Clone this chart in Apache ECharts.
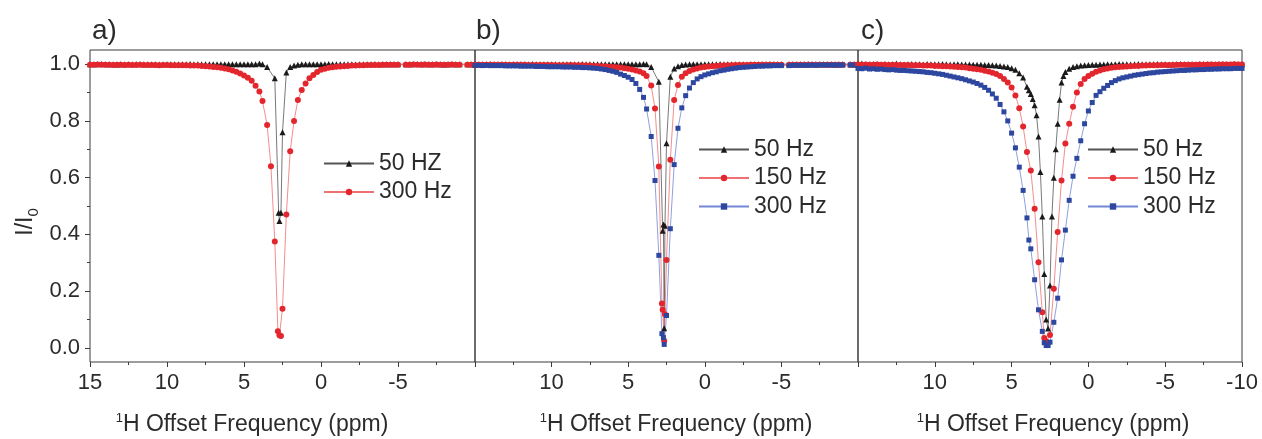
<!DOCTYPE html>
<html>
<head>
<meta charset="utf-8">
<script src="https://cdn.jsdelivr.net/npm/echarts@6/dist/echarts.min.js"></script>
<style>
html,body{margin:0;padding:0;background:#fff;}
#chart{width:1262px;height:439px;}
</style>
</head>
<body>
<div id="chart"></div>
<script>
// ---------- DATA ----------
// Panels a) and b): shared offset frequencies (ppm)
const X_AB = [15, 14.75, 14.5, 14.25, 14, 13.75, 13.5, 13.25, 13, 12.75, 12.5, 12.25, 12, 11.75, 11.5, 11.25, 11, 10.75, 10.5, 10.25, 10, 9.75, 9.5, 9.25, 9, 8.75, 8.5, 8.25, 8, 7.75, 7.5, 7.25, 7, 6.75, 6.5, 6.25, 6, 5.75, 5.5, 5.25, 5,
  4.75, 4.5, 4.25, 4, 3.8, 3.5, 3.25, 3, 2.8, 2.75, 2.7, 2.65, 2.6, 2.5, 2.4, 2.25, 2, 1.75, 1.5, 1.25, 1, 0.75, 0.5, 0.25,
  0, -0.25, -0.5, -0.75, -1, -1.25, -1.5, -1.75, -2, -2.25, -2.5, -2.75, -3, -3.25, -3.5, -3.75, -4, -4.25, -4.5, -4.75, -5,
  -5.5, -5.75, -6, -6.25, -6.5, -6.75, -7, -7.25, -7.5, -7.75, -8, -8.25, -8.5, -8.75, -9,
  -9.5, -9.75, -10];

const A_50 = [1, 1, 1, 1.001, 1, 1, 1, 0.999, 1, 1, 1, 1, 1.001, 1, 1, 1, 1, 1, 0.999, 1, 1, 1, 1, 1, 1, 1, 1.001, 1, 1, 1, 1, 1, 1, 1, 1, 1, 1, 1, 1, 1, 1,
  1, 1, 1, 1.002, 1, 0.99, null, 0.95, null, 0.476, 0.447, null, 0.476, 0.76, null, 0.971, 0.99, 0.995, 0.998, 1, 1, 1, 1, 1,
  1, 1, 1.001, 1, 1, 1, 1, 1, 1, 0.999, 1, 1, 1, 1, 1.001, 1, 1, 1, 1, 1, 1,
  1, 1, 1, 1.001, 1, 1, 1, 1, 1, 1, 0.999, 1, 1, 1, 1,
  1, 1, 1];
const A_300 = [0.998, 0.998, 0.999, 0.998, 0.998, 0.998, 0.997, 0.998, 0.998, 0.997, 0.998, 0.997, 0.997, 0.998, 0.997, 0.997, 0.997, 0.997, 0.996, 0.997, 0.997, 0.996, 0.996, 0.996, 0.996,
  0.996, 0.995, 0.995, 0.995, 0.994, 0.993, 0.992, 0.99, 0.989, 0.987, 0.985, 0.982, 0.978, 0.973, 0.967, 0.96,
  0.952, 0.942, 0.924, 0.904, 0.87, 0.786, 0.64, 0.375, 0.058, null, 0.044, null, 0.042, 0.138, null, 0.47, 0.693, 0.8, 0.874, 0.909, 0.932, 0.95, 0.962, 0.972,
  0.98, 0.984, 0.987, 0.989, 0.991, 0.992, 0.993, 0.994, 0.995, 0.995, 0.996, 0.996, 0.997, 0.997, 0.997, 0.997, 0.998, 0.998, 0.998, 0.998, 0.998,
  0.998, 0.998, 0.999, 0.998, 0.998, 0.999, 0.998, 0.998, 0.999, 0.998, 0.998, 0.998, 0.999, 0.998, 0.998,
  0.998, 0.998, 0.998];

const B_50 = [1, 1, 1, 1, 1.001, 1, 1, 1, 1, 0.999, 1, 1, 1, 1, 1, 1.001, 1, 1, 1, 1, 1, 1, 0.999, 1, 1, 1, 1, 1, 1.001, 1, 1, 1, 1, 1, 1, 1, 1, 1, 1, 1, 1,
  1, 1, 1, 1.001, 1, 0.99, null, 0.938, null, 0.413, 0.435, 0.069, 0.43, 0.721, null, 0.956, 0.985, 0.993, 0.997, 0.999, 1, 1, 1, 1,
  1, 1, 1, 1, 1.001, 1, 1, 1, 1, 1, 1, 0.999, 1, 1, 1, 1, 1, 1.001, 1, 1, 1,
  1, 1, 1, 1, 1, 1.001, 1, 1, 1, 1, 1, 1, 0.999, 1, 1,
  1, 1, 1];
const B_150 = [0.998, 0.998, 0.998, 0.998, 0.998, 0.998, 0.998, 0.998, 0.998, 0.998, 0.998, 0.998, 0.998, 0.998, 0.997, 0.997, 0.997, 0.997, 0.997, 0.997, 0.997, 0.996, 0.996, 0.996, 0.996,
  0.997, 0.996, 0.996, 0.996, 0.995, 0.995, 0.994, 0.994, 0.993, 0.992, 0.991, 0.99, 0.989, 0.988, 0.986, 0.984,
  0.981, 0.978, 0.974, 0.968, 0.958, 0.925, 0.844, 0.639, 0.156, 0.134, null, 0.025, 0.118, 0.31, null, 0.663, 0.874, 0.927, 0.956, 0.968, 0.976, 0.981, 0.985, 0.988,
  0.99, 0.992, 0.993, 0.994, 0.995, 0.995, 0.996, 0.996, 0.997, 0.997, 0.997, 0.997, 0.998, 0.998, 0.998, 0.998, 0.998, 0.998, 0.998, 0.998, 0.998,
  0.998, 0.998, 0.998, 0.998, 0.998, 0.998, 0.998, 0.998, 0.998, 0.998, 0.998, 0.998, 0.998, 0.998, 0.998,
  0.998, 0.998, 0.998];
const B_300 = [0.996, 0.996, 0.995, 0.996, 0.995, 0.995, 0.995, 0.995, 0.994, 0.994, 0.994, 0.994, 0.993, 0.993, 0.993, 0.993, 0.992, 0.992, 0.992, 0.991, 0.991, 0.991, 0.991, 0.99, 0.99,
  0.99, 0.989, 0.989, 0.988, 0.988, 0.987, 0.986, 0.985, 0.983, 0.981, 0.978, 0.975, 0.971, 0.965, 0.96, 0.954,
  0.946, 0.932, 0.911, 0.883, 0.842, 0.745, 0.59, 0.326, 0.05, null, 0.036, 0.012, null, 0.114, null, 0.42, 0.646, 0.774, 0.846, 0.889, 0.916, 0.935, 0.948, 0.956,
  0.962, 0.966, 0.97, 0.973, 0.977, 0.979, 0.982, 0.984, 0.986, 0.988, 0.989, 0.99, 0.991, 0.992, 0.993, 0.993, 0.994, 0.994, 0.995, 0.995, 0.995,
  0.995, 0.996, 0.996, 0.996, 0.996, 0.996, 0.997, 0.996, 0.997, 0.997, 0.997, 0.997, 0.997, 0.997, 0.997,
  0.997, 0.997, 0.997];

// Panel c): offset frequencies (ppm)
const X_C = [15, 14.75, 14.5, 14.25, 14, 13.75, 13.5, 13.25, 13, 12.75, 12.5, 12.25, 12, 11.75, 11.5, 11.25, 11, 10.75, 10.5, 10.25, 10, 9.75, 9.5, 9.25, 9, 8.75, 8.5, 8.25, 8, 7.75, 7.5, 7.25, 7, 6.75, 6.5, 6.25, 6, 5.75, 5.5, 5.25, 5, 4.75, 4.5, 4.25, 4,
  3.875, 3.75, 3.625, 3.5, 3.375, 3.25, 3.125, 3, 2.875, 2.75, 2.625, 2.5, 2.375, 2.25, 2.125, 2, 1.875, 1.75, 1.625,
  1.5, 1.25, 1, 0.75, 0.5, 0.25, 0, -0.25, -0.5, -0.75, -1, -1.25, -1.5, -1.75, -2, -2.25, -2.5, -2.75, -3, -3.25, -3.5, -3.75, -4,
  -4.25, -4.5, -4.75, -5, -5.25, -5.5, -5.75, -6, -6.25, -6.5, -6.75, -7, -7.25, -7.5, -7.75, -8, -8.25, -8.5, -8.75, -9, -9.25, -9.5, -9.75, -10];

const C_50 = [1, 1.002, 0.999, 1, 1.001, 1, 0.999, 1.001, 1, 1, 1.002, 1, 0.999, 1, 1.001, 1, 1, 0.999, 1.001, 1, 1, 1, 1.001, 1, 0.999, 1, 1, 0.999, 0.999,
  0.999, 0.998, 0.998, 0.998, 0.997, 0.997, 0.996, 0.995, 0.994, 0.992, 0.99, 0.986, 0.98, 0.968, 0.953, 0.92,
  0.908, 0.895, 0.877, 0.855, 0.82, 0.745, 0.62, 0.463, 0.26, 0.1, 0.068, 0.22, 0.463, 0.6, 0.7, 0.79, 0.875, 0.935, 0.958,
  0.972, 0.984, 0.99, 0.993, 0.995, 0.996, 0.997, 0.998, 0.998, 0.999, 0.999, 1, 0.999, 1, 1.001, 1, 1, 0.999, 1, 1.001, 1, 1, 1,
  1, 1.001, 1, 1, 0.999, 1, 1, 1.001, 1, 1, 1, 0.999, 1, 1.001, 1, 1, 1, 1, 1.001, 1, 0.999, 1, 1, 1];
const C_150 = [0.999, 0.998, 0.999, 0.998, 0.998, 0.999, 0.998, 0.998, 0.997, 0.998, 0.997, 0.997, 0.997,
  0.997, 0.996, 0.996, 0.996, 0.995, 0.995, 0.995, 0.994, 0.994, 0.993, 0.993, 0.992,
  0.991, 0.99, 0.989, 0.988, 0.986, 0.984, 0.982, 0.98, 0.977, 0.974, 0.97, 0.965, 0.958, 0.948, 0.935, 0.918, 0.89, 0.845, 0.78, 0.69,
  null, 0.625, null, 0.49, null, 0.302, null, 0.125, 0.035, 0.022, 0.018, 0.045, null, 0.208, null, 0.408, null, 0.59, null,
  0.72, 0.79, 0.85, 0.9, 0.93, 0.948, 0.958, 0.966, 0.973, 0.978, 0.982, 0.985, 0.987, 0.989, 0.99, 0.991, 0.992, 0.993, 0.994, 0.994, 0.995, 0.995, 0.996,
  0.996, 0.996, 0.997, 0.997, 0.997, 0.997, 0.998, 0.998, 0.998, 0.998, 0.998, 0.998, 0.999, 0.998, 0.999, 0.999, 0.998, 0.999, 0.999, 0.999, 0.999, 1, 0.999, 0.999];
const C_300 = [0.985, 0.984, 0.986, 0.983, 0.984, 0.982, 0.983, 0.981, 0.98, 0.981, 0.979, 0.978, 0.978,
  0.977, 0.976, 0.975, 0.974, 0.973, 0.971, 0.97, 0.968, 0.966, 0.964, 0.961, 0.958,
  0.955, 0.952, 0.949, 0.945, 0.941, 0.937, 0.932, 0.926, 0.918, 0.908, 0.895, 0.88, 0.858, 0.832, 0.8, 0.757, 0.705, 0.637, 0.555, 0.458,
  0.38, 0.349, null, 0.24, null, 0.134, null, 0.058, 0.018, 0.008, 0.008, 0.02, null, 0.09, null, 0.175, null, 0.31, null,
  0.415, 0.52, 0.605, 0.668, 0.73, 0.79, 0.835, 0.865, 0.89, 0.903, 0.915, 0.925, 0.935, 0.942, 0.948, 0.952, 0.955, 0.958, 0.961, 0.963, 0.965, 0.967, 0.969,
  0.97, 0.972, 0.973, 0.974, 0.975, 0.976, 0.977, 0.978, 0.978, 0.979, 0.98, 0.98, 0.981, 0.981, 0.982, 0.982, 0.983, 0.983, 0.984, 0.984, 0.984, 0.985, 0.985, 0.985];

const PANEL_LABELS = ['a)', 'b)', 'c)'];
const LEGEND_A = ['50 HZ', '300 Hz'];
const LEGEND_BC = ['50 Hz', '150 Hz', '300 Hz'];
const Y_TICKS = [0, 0.2, 0.4, 0.6, 0.8, 1.0];
const Y_MINOR = [0.1, 0.3, 0.5, 0.7, 0.9];
const X_TITLE = 'H Offset Frequency (ppm)';

// ---------- CHART ----------
const FONT = '"Liberation Sans", Arial, sans-serif';
const TXT = '#2b2b2b';
const AX = '#3a3a3a';
const STY = {
  black: {symbol: 'triangle', size: 6, color: '#1a1a1a', line: '#555555'},
  red:   {symbol: 'circle', size: 6, color: '#e3262d', line: '#f07070'},
  blue:  {symbol: 'rect', size: 5, color: '#2d47a0', line: '#7487d6'}
};
const NAME_MAP = {
  a50: LEGEND_A[0], a300: LEGEND_A[1],
  b50: LEGEND_BC[0], b150: LEGEND_BC[1], b300: LEGEND_BC[2],
  c50: LEGEND_BC[0], c150: LEGEND_BC[1], c300: LEGEND_BC[2]
};

function pairs(xs, ys) {
  const out = [];
  for (let i = 0; i < xs.length; i++) {
    if (ys[i] !== null && ys[i] !== undefined) out.push([xs[i], ys[i]]);
  }
  return out;
}
function mkSeries(name, grid, xs, ys, st) {
  return {
    name: name, type: 'line', xAxisIndex: grid, yAxisIndex: grid,
    data: pairs(xs, ys), symbol: st.symbol, symbolSize: st.size, showSymbol: true,
    connectNulls: true, clip: false,
    itemStyle: {color: st.color},
    lineStyle: {color: st.line, width: 0.8},
    emphasis: {disabled: true}
  };
}

const grids = [
  {left: 90, top: 50, width: 385, height: 312},
  {left: 475, top: 50, width: 383, height: 312},
  {left: 858, top: 50, width: 384, height: 312}
].map(g => Object.assign(g, {show: true, borderColor: AX, borderWidth: 1, containLabel: false}));

function mkX(i, hide) {
  return {
    type: 'value', gridIndex: i, position: 'bottom', inverse: true, min: -10, max: 15, interval: 5,
    axisLine: {show: false, onZero: false},
    axisTick: {show: true, inside: false, length: 5, lineStyle: {color: AX}},
    minorTick: {show: true, splitNumber: 2, length: 3, lineStyle: {color: AX}},
    splitLine: {show: false},
    axisLabel: {
      margin: 10, fontSize: 22, color: TXT, fontFamily: FONT,
      formatter: v => (hide.indexOf(v) >= 0 ? '' : String(v))
    }
  };
}
function mkY(i, show) {
  return {
    type: 'value', gridIndex: i, position: 'left', min: -0.05, max: 1.05,
    axisLine: {show: false, onZero: false},
    splitLine: {show: false},
    axisTick: show ? {show: true, inside: false, length: 5, customValues: Y_TICKS, lineStyle: {color: AX}} : {show: false},
    axisLabel: show ? {show: true, margin: 10, fontSize: 22, color: TXT, fontFamily: FONT, customValues: Y_TICKS, formatter: v => v.toFixed(1)} : {show: false}
  };
}
const yMinor = {
  type: 'value', gridIndex: 0, position: 'left', offset: 0, min: -0.05, max: 1.05,
  axisLine: {show: false, onZero: false}, splitLine: {show: false}, axisLabel: {show: false},
  axisTick: {show: true, inside: false, length: 3, customValues: Y_MINOR, lineStyle: {color: AX}}
};

function mkLegend(names, left, top) {
  return {
    data: names, orient: 'vertical', left: left, top: top, padding: 0,
    itemWidth: 50, itemHeight: 8, itemGap: 5.5, selectedMode: false,
    textStyle: {fontSize: 23, color: TXT, fontFamily: FONT, lineHeight: 23},
    formatter: n => NAME_MAP[n]
  };
}

const titleRich = {
  s: {fontSize: 13, fontFamily: FONT, fill: TXT, verticalAlign: 'top', lineHeight: 14},
  t: {fontSize: 23, fontFamily: FONT, fill: TXT, lineHeight: 26}
};
const graphics = [];
[[252, 425], [676, 425], [1053, 425]].forEach(p => {
  graphics.push({type: 'text', x: p[0], y: p[1], silent: true,
    style: {text: '{s|1}{t|' + X_TITLE + '}', rich: titleRich, align: 'center', verticalAlign: 'middle', fill: TXT}});
});
[[92, 31], [476, 31], [861, 31]].forEach((p, i) => {
  graphics.push({type: 'text', x: p[0], y: p[1], silent: true,
    style: {text: PANEL_LABELS[i], fontSize: 28, fontFamily: FONT, fill: TXT, align: 'left', verticalAlign: 'middle'}});
});
graphics.push({type: 'text', x: 26, y: 222, rotation: Math.PI / 2, silent: true,
  style: {text: '{a|I/I}{b|0}', align: 'center', verticalAlign: 'middle', fill: TXT,
    rich: {
      a: {fontSize: 23, fontFamily: FONT, fill: TXT, lineHeight: 30, verticalAlign: 'middle'},
      b: {fontSize: 15, fontFamily: FONT, fill: TXT, lineHeight: 14, verticalAlign: 'bottom'}
    }}});

const option = {
  animation: false,
  backgroundColor: '#ffffff',
  grid: grids,
  xAxis: [mkX(0, [-10]), mkX(1, [15, -10]), mkX(2, [15])],
  yAxis: [mkY(0, true), mkY(1, false), mkY(2, false), yMinor],
  legend: [
    mkLegend(['a50', 'a300'], 323, 152),
    mkLegend(['b50', 'b150', 'b300'], 698, 138),
    mkLegend(['c50', 'c150', 'c300'], 1087, 138)
  ],
  graphic: graphics,
  series: [
    mkSeries('a50', 0, X_AB, A_50, STY.black),
    mkSeries('a300', 0, X_AB, A_300, STY.red),
    mkSeries('b50', 1, X_AB, B_50, STY.black),
    mkSeries('b150', 1, X_AB, B_150, STY.red),
    mkSeries('b300', 1, X_AB, B_300, STY.blue),
    mkSeries('c50', 2, X_C, C_50, STY.black),
    mkSeries('c150', 2, X_C, C_150, STY.red),
    mkSeries('c300', 2, X_C, C_300, STY.blue)
  ]
};
const chart = echarts.init(document.getElementById('chart'), null, {renderer: 'canvas'});
chart.setOption(option);
</script>
</body>
</html>
